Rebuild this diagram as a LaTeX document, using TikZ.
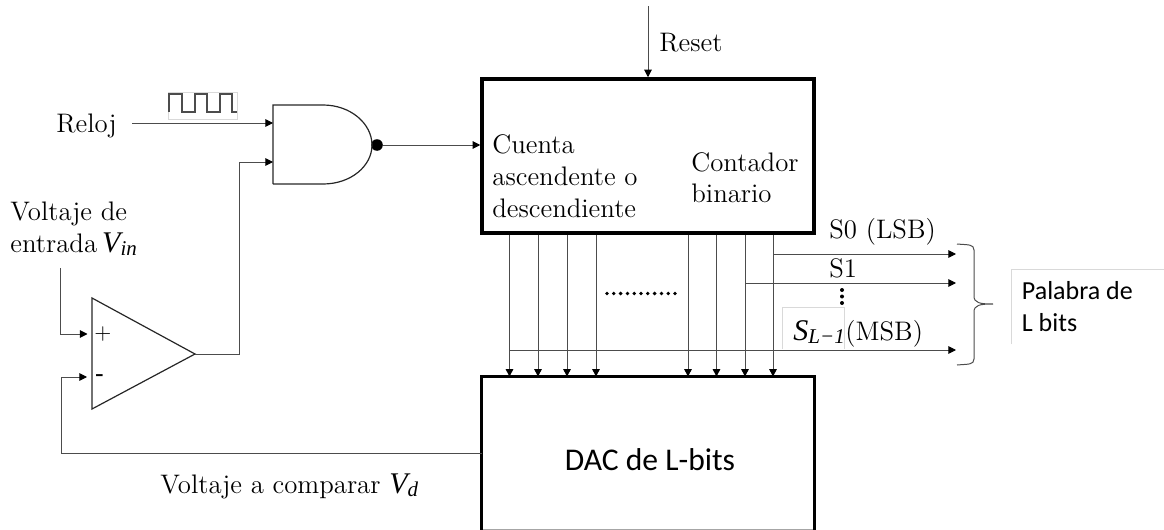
\documentclass[tikz,border=0pt]{standalone}
\usepackage{fontspec}
\usetikzlibrary{arrows.meta,calc}
\newfontfamily\calib{Carlito}
\newfontfamily\varfont{Liberation Serif}
\newcommand\varsub[2]{{\varfont\itshape\fontsize{15}{16}\selectfont #1\raisebox{-0.28ex}{\fontsize{10.5}{12}\selectfont #2}}}
\definecolor{wire}{gray}{0.3}
\definecolor{framec}{gray}{0.85}
\tikzset{
 wireline/.style={draw=wire,line width=0.5pt},
 arrowline/.style={wireline,-{Triangle[length=3.8pt,width=3.8pt,fill=black,color=black]}},
 blockbox/.style={draw=black,line width=1.75pt,inner sep=0pt},
 gateline/.style={draw=black!85,line width=0.6pt},
 lab/.style={anchor=base west,inner sep=0pt,font=\fontsize{13.4}{16}\selectfont},
 cal/.style={anchor=base west,inner sep=0pt,font=\calib\fontsize{13}{16}\selectfont},
 faint/.style={draw=framec,line width=0.4pt}
}
\begin{document}
\begin{tikzpicture}[x=0.5pt,y=-0.5pt]
\useasboundingbox (0,0) rectangle (1164,530);
% named points
\coordinate (resetTop) at (648,6);
\coordinate (relojStart) at (132,123);
\coordinate (andIn1) at (273,123);
\coordinate (andIn2) at (273,162);
\coordinate (andTL) at (273,105);
\coordinate (andBL) at (273,184);
\coordinate (opTL) at (92,298);
\coordinate (opBL) at (92,409);
\coordinate (opTip) at (195,354);
\coordinate (opPlus) at (87.5,334);
\coordinate (opMinus) at (87,377);
\coordinate (vinStart) at (60.5,268);
\coordinate (fbCorner) at (61.5,453);
\coordinate (s0End) at (956,254);
\coordinate (s1End) at (956,283);
\coordinate (msbEnd) at (956,350);
% blocks
\node[blockbox,minimum width=166pt,minimum height=77pt] (cnt) at (648,156) {};
\node[inner sep=0pt,minimum width=166pt,minimum height=76.5pt] (dac) at (648,453.5) {};
\draw[draw=gray!70,line width=0.5pt] ([yshift=0.5pt]dac.south west) -- ([yshift=0.5pt]dac.south east);
\draw[draw=black,line width=1.75pt] (dac.south west) -- (dac.north west) -- (dac.north east) -- (dac.south east);
\node[anchor=base,inner sep=0pt,font=\calib\fontsize{15.8}{19}\selectfont] (dactxt) at (650,470) {DAC de L-bits};
% bubble
\node[circle,fill=black,inner sep=0pt,minimum size=5.8pt] (bub) at (377,145) {};
% AND gate
\draw[gateline] (andBL) -- (andTL) -- (323,105) .. controls (351,105) and (372,124) .. (372,145) .. controls (372,166) and (351,184) .. (323,184) -- (andBL);
% Op amp
\draw[gateline] (opTL) -- (opTip) -- (opBL) -- cycle;
\node[inner sep=0pt,font=\fontsize{10.5}{12}\selectfont] (plus) at (103,334) {$+$};
\node[inner sep=0pt,font=\bfseries\fontsize{11}{13}\selectfont] (minus) at (100,378) {-};
% connectors
\draw[arrowline] (resetTop) -- (resetTop |- cnt.north);
\draw[arrowline] (relojStart) -- (andIn1);
\draw[arrowline] (opTip) -- (239,354) -- (239,162) -- (andIn2);
\draw[arrowline] (bub.east) -- (cnt.west |- bub);
\draw[arrowline] (vinStart) -- (vinStart |- opPlus) -- (opPlus);
\draw[arrowline] (dac.west |- fbCorner) -- (fbCorner) -- (fbCorner |- opMinus) -- (opMinus);
\foreach \n/\x in {a/509.5,b/538,c/567,d/596,e/688,f/716.5,g/745,h/773}{
  \coordinate (tap\n) at (\x,300);
  \draw[arrowline] (tap\n |- cnt.south) -- (tap\n |- dac.north);
}
\draw[arrowline] (taph |- s0End) -- (s0End);
\draw[arrowline] (tapg |- s1End) -- (s1End);
\draw[arrowline] (tapa |- msbEnd) -- (msbEnd);
% brace
\draw[draw=wire,line width=0.5pt] (957,244) .. controls (968,245) and (974,244) .. (974,250) -- (974,296) .. controls (974,303) and (980,304) .. (993,304) .. controls (980,304) and (974,305) .. (974,312) -- (974,359) .. controls (974,365) and (968,364) .. (957,365);
% clock
\draw[faint] (168,92) rectangle (237,119);
\draw[draw=wire,line width=0.6pt] (169,112) -- (169,94) -- (182,94) -- (182,112) -- (195,112) -- (195,94) -- (207,94) -- (207,112) -- (220,112) -- (220,94) -- (232,94) -- (232,112) -- (237,112);
% faint frames
\draw[faint] (782,349) -- (782,307) -- (844,307) -- (844,349);
\draw[faint] (1011,344) -- (1011,269.5) -- (1164,269.5);
% labels
\node[lab] (lreset) at (659,52) {Reset};
\node[lab] (lreloj) at (56,132) {Reloj};
\node[lab] (lvolt) at (10,220) {Voltaje de};
\node[lab] (lentr) at (10,252) {entrada\hspace{2.5pt}\varsub{V}{in}};
\node[lab] (lcomp) at (160,493) {Voltaje a comparar \varsub{V}{d}};
\node[lab] (lc1) at (492,153) {Cuenta};
\node[lab] (lc2) at (492,185) {ascendente o};
\node[lab] (lc3) at (492,217) {descendiente};
\node[lab] (lb1) at (691,171) {Contador};
\node[lab] (lb2) at (691,202) {binario};
\node[lab] (ls0) at (829,238) {S0 (LSB)};
\node[lab] (ls1) at (829,277) {S1};
\node[lab] (lsl) at (793,340) {\varsub{S}{L−1}};
\node[lab] (lmsb) at (845,340) {(MSB)};
\node[cal] (lp1) at (1021.5,299) {Palabra de};
\node[cal] (lp2) at (1021.5,331) {L bits};
% dots
\foreach \y in {290,296.5,303}{ \fill[black] (842,\y) circle (1pt); }
\foreach \i in {0,...,10}{ \fill[black] ({607+\i*6.8},293.5) circle (0.95pt); }
\end{tikzpicture}
\end{document}
